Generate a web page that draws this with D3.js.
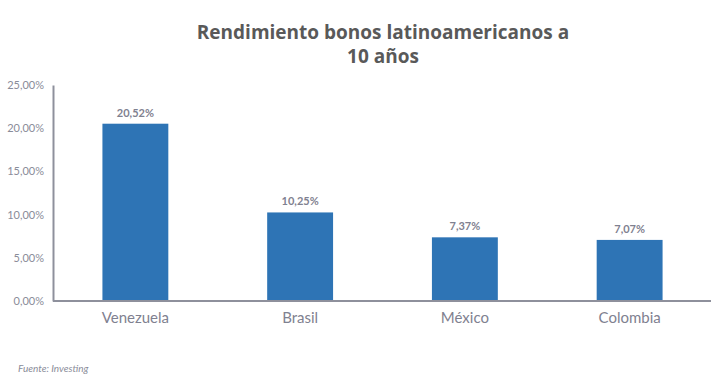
<!DOCTYPE html>
<html>
<head>
<meta charset="utf-8">
<script src="https://cdn.jsdelivr.net/npm/d3@7"></script>
<style>
    body { margin: 0; background: #fff; }
    svg { display: block; font-family: Lato, "Open Sans", sans-serif; }
</style>
</head>
<body>
<div id="chart"></div>
<script>
'use strict';
var countries = ['Venezuela', 'Brasil', 'México', 'Colombia'];
var yields = [20.52, 10.25, 7.37, 7.07];
var yTicks = [0, 5, 10, 15, 20, 25];

var fmt = function(v) {
    return v.toFixed(2).replace('.', ',') + '%';
};

var W = 728, H = 390;
var margin = {top: 85, right: 16, bottom: 89, left: 53};

var svg = d3.select('#chart').append('svg')
    .attr('width', W)
    .attr('height', H);

// Title, two lines.
var titleLines = ['Rendimiento bonos latinoamericanos a', '10 años'];
svg.selectAll('text.title')
    .data(titleLines)
    .enter()
    .append('text')
    .attr('class', 'title')
    .attr('x', 383)
    .attr('y', function(d, i) { return 39 + i * 24; })
    .attr('text-anchor', 'middle')
    .attr('fill', '#595959')
    .style('font-family', '"Open Sans", sans-serif')
    .style('font-size', '19px')
    .style('font-weight', 'bold')
    .text(function(d) { return d; });

var xScale = d3.scaleBand()
    .domain(countries)
    .range([margin.left, W - margin.right])
    .paddingInner(0.6)
    .paddingOuter(0.3);

var yScale = d3.scaleLinear()
    .domain([0, 25])
    .range([H - margin.bottom, margin.top]);

// Bars.
svg.selectAll('rect.bar')
    .data(yields)
    .enter()
    .append('rect')
    .attr('class', 'bar')
    .attr('x', function(d, i) { return xScale(countries[i]); })
    .attr('y', function(d) { return yScale(d); })
    .attr('width', xScale.bandwidth())
    .attr('height', function(d) { return yScale(0) - yScale(d); })
    .attr('fill', '#2e74b5');

// Value labels above bars.
svg.selectAll('text.val')
    .data(yields)
    .enter()
    .append('text')
    .attr('class', 'val')
    .attr('x', function(d, i) { return xScale(countries[i]) + xScale.bandwidth() / 2; })
    .attr('y', function(d) { return yScale(d) - 7; })
    .attr('text-anchor', 'middle')
    .attr('fill', '#7f8190')
    .style('font-size', '11px')
    .style('font-weight', 'bold')
    .text(fmt);

// y-axis.
var yAxis = d3.axisLeft(yScale)
    .tickValues(yTicks)
    .tickSize(0)
    .tickPadding(9)
    .tickFormat(fmt);
var yG = svg.append('g')
    .attr('transform', 'translate(' + margin.left + ',0)')
    .call(yAxis);
yG.select('.domain').attr('stroke', '#8e909c').attr('stroke-width', 2);
yG.selectAll('text')
    .attr('fill', '#8a8c99')
    .style('font-size', '11px')
    .style('font-family', 'Lato, "Open Sans", sans-serif');

// x-axis.
var xAxis = d3.axisBottom(xScale)
    .tickSize(0)
    .tickPadding(11);
var xG = svg.append('g')
    .attr('transform', 'translate(0,' + yScale(0) + ')')
    .call(xAxis);
xG.select('.domain')
    .attr('stroke', '#8e909c')
    .attr('stroke-width', 2)
    .attr('d', 'M' + margin.left + ',0H' + (W - margin.right - 1));
xG.selectAll('text')
    .attr('fill', '#7f8190')
    .style('font-size', '15px')
    .style('font-family', 'Lato, "Open Sans", sans-serif');

// Source note.
svg.append('text')
    .attr('x', 18)
    .attr('y', 372)
    .attr('fill', '#8a8c99')
    .style('font-size', '10px')
    .style('font-style', 'italic')
    .text('Fuente: Investing');
</script>
</body>
</html>
